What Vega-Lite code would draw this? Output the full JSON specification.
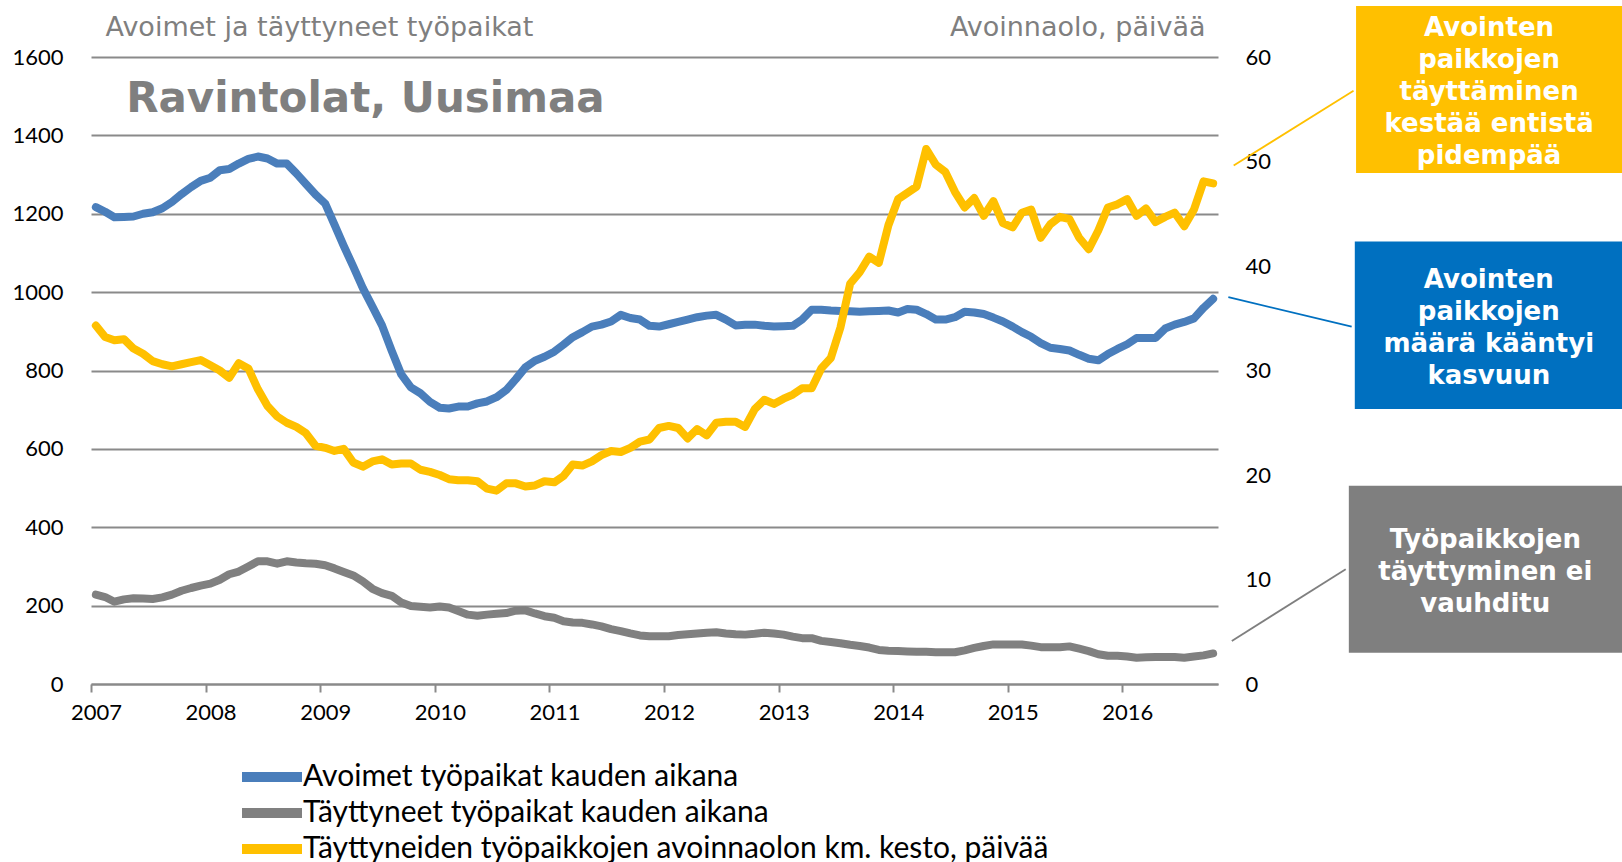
{
  "$schema": "https://vega.github.io/schema/vega-lite/v6.json",
  "width": 1127,
  "height": 627,
  "autosize": {"type": "none"},
  "padding": {"left": 91, "top": 57, "right": 404, "bottom": 178},
  "background": "white",
  "config": {"view": {"stroke": null}},
  "datasets": {
    "m": [
      {"d":"2007-01","a":1217,"t":228,"k":34.3},{"d":"2007-02","a":1205,"t":222,"k":33.2},{"d":"2007-03","a":1191,"t":210,"k":32.9},{"d":"2007-04","a":1192,"t":216,"k":33.0},{"d":"2007-05","a":1193,"t":219,"k":32.1},{"d":"2007-06","a":1200,"t":218,"k":31.6},{"d":"2007-07","a":1204,"t":217,"k":30.9},{"d":"2007-08","a":1214,"t":221,"k":30.6},{"d":"2007-09","a":1230,"t":228,"k":30.4},{"d":"2007-10","a":1250,"t":238,"k":30.6},{"d":"2007-11","a":1268,"t":245,"k":30.8},{"d":"2007-12","a":1284,"t":251,"k":31.0},
      {"d":"2008-01","a":1292,"t":256,"k":30.5},{"d":"2008-02","a":1311,"t":266,"k":30.0},{"d":"2008-03","a":1314,"t":280,"k":29.3},{"d":"2008-04","a":1328,"t":287,"k":30.7},{"d":"2008-05","a":1340,"t":300,"k":30.2},{"d":"2008-06","a":1346,"t":313,"k":28.2},{"d":"2008-07","a":1341,"t":313,"k":26.6},{"d":"2008-08","a":1328,"t":307,"k":25.6},{"d":"2008-09","a":1328,"t":313,"k":25.0},{"d":"2008-10","a":1303,"t":310,"k":24.6},{"d":"2008-11","a":1276,"t":308,"k":24.0},{"d":"2008-12","a":1249,"t":307,"k":22.8},
      {"d":"2009-01","a":1226,"t":303,"k":22.6},{"d":"2009-02","a":1172,"t":295,"k":22.3},{"d":"2009-03","a":1118,"t":286,"k":22.5},{"d":"2009-04","a":1065,"t":277,"k":21.2},{"d":"2009-05","a":1010,"t":262,"k":20.8},{"d":"2009-06","a":963,"t":243,"k":21.3},{"d":"2009-07","a":915,"t":232,"k":21.5},{"d":"2009-08","a":850,"t":225,"k":21.0},{"d":"2009-09","a":790,"t":208,"k":21.1},{"d":"2009-10","a":757,"t":199,"k":21.1},{"d":"2009-11","a":742,"t":197,"k":20.5},{"d":"2009-12","a":720,"t":195,"k":20.3},
      {"d":"2010-01","a":705,"t":198,"k":20.0},{"d":"2010-02","a":703,"t":195,"k":19.6},{"d":"2010-03","a":708,"t":186,"k":19.5},{"d":"2010-04","a":708,"t":177,"k":19.5},{"d":"2010-05","a":716,"t":174,"k":19.4},{"d":"2010-06","a":721,"t":177,"k":18.7},{"d":"2010-07","a":732,"t":179,"k":18.5},{"d":"2010-08","a":750,"t":181,"k":19.2},{"d":"2010-09","a":778,"t":187,"k":19.2},{"d":"2010-10","a":808,"t":188,"k":18.9},{"d":"2010-11","a":825,"t":180,"k":19.0},{"d":"2010-12","a":835,"t":173,"k":19.4},
      {"d":"2011-01","a":848,"t":169,"k":19.3},{"d":"2011-02","a":866,"t":160,"k":19.9},{"d":"2011-03","a":885,"t":157,"k":21.0},{"d":"2011-04","a":898,"t":156,"k":20.9},{"d":"2011-05","a":912,"t":152,"k":21.3},{"d":"2011-06","a":917,"t":147,"k":21.9},{"d":"2011-07","a":925,"t":140,"k":22.3},{"d":"2011-08","a":942,"t":135,"k":22.2},{"d":"2011-09","a":934,"t":129,"k":22.6},{"d":"2011-10","a":930,"t":124,"k":23.2},{"d":"2011-11","a":914,"t":122,"k":23.4},{"d":"2011-12","a":912,"t":122,"k":24.5},
      {"d":"2012-01","a":918,"t":122,"k":24.7},{"d":"2012-02","a":924,"t":125,"k":24.5},{"d":"2012-03","a":930,"t":127,"k":23.5},{"d":"2012-04","a":936,"t":129,"k":24.4},{"d":"2012-05","a":940,"t":131,"k":23.8},{"d":"2012-06","a":942,"t":132,"k":25.0},{"d":"2012-07","a":930,"t":129,"k":25.1},{"d":"2012-08","a":915,"t":127,"k":25.1},{"d":"2012-09","a":917,"t":126,"k":24.6},{"d":"2012-10","a":917,"t":128,"k":26.3},{"d":"2012-11","a":914,"t":131,"k":27.2},{"d":"2012-12","a":912,"t":129,"k":26.8},
      {"d":"2013-01","a":913,"t":126,"k":27.3},{"d":"2013-02","a":914,"t":121,"k":27.7},{"d":"2013-03","a":930,"t":117,"k":28.3},{"d":"2013-04","a":955,"t":117,"k":28.3},{"d":"2013-05","a":955,"t":110,"k":30.2},{"d":"2013-06","a":953,"t":107,"k":31.2},{"d":"2013-07","a":952,"t":104,"k":34.1},{"d":"2013-08","a":951,"t":100,"k":38.3},{"d":"2013-09","a":950,"t":97,"k":39.4},{"d":"2013-10","a":951,"t":93,"k":40.9},{"d":"2013-11","a":952,"t":87,"k":40.3},{"d":"2013-12","a":953,"t":85,"k":43.9},
      {"d":"2014-01","a":948,"t":84,"k":46.4},{"d":"2014-02","a":957,"t":83,"k":47.0},{"d":"2014-03","a":955,"t":82,"k":47.6},{"d":"2014-04","a":944,"t":82,"k":51.2},{"d":"2014-05","a":930,"t":81,"k":49.7},{"d":"2014-06","a":930,"t":81,"k":49.0},{"d":"2014-07","a":936,"t":81,"k":47.1},{"d":"2014-08","a":950,"t":86,"k":45.6},{"d":"2014-09","a":948,"t":92,"k":46.5},{"d":"2014-10","a":944,"t":97,"k":44.8},{"d":"2014-11","a":935,"t":101,"k":46.2},{"d":"2014-12","a":925,"t":101,"k":44.1},
      {"d":"2015-01","a":912,"t":101,"k":43.7},{"d":"2015-02","a":898,"t":101,"k":45.1},{"d":"2015-03","a":886,"t":98,"k":45.4},{"d":"2015-04","a":870,"t":94,"k":42.7},{"d":"2015-05","a":858,"t":94,"k":44.0},{"d":"2015-06","a":855,"t":94,"k":44.7},{"d":"2015-07","a":851,"t":96,"k":44.5},{"d":"2015-08","a":840,"t":90,"k":42.7},{"d":"2015-09","a":830,"t":84,"k":41.6},{"d":"2015-10","a":826,"t":76,"k":43.4},{"d":"2015-11","a":842,"t":72,"k":45.6},{"d":"2015-12","a":855,"t":72,"k":45.9},
      {"d":"2016-01","a":867,"t":70,"k":46.4},{"d":"2016-02","a":883,"t":67,"k":44.8},{"d":"2016-03","a":883,"t":68,"k":45.5},{"d":"2016-04","a":883,"t":69,"k":44.2},{"d":"2016-05","a":907,"t":69,"k":44.7},{"d":"2016-06","a":917,"t":69,"k":45.1},{"d":"2016-07","a":924,"t":67,"k":43.8},{"d":"2016-08","a":933,"t":70,"k":45.4},{"d":"2016-09","a":960,"t":73,"k":48.1},{"d":"2016-10","a":983,"t":78,"k":47.9}
    ]
  },
  "layer": [
    {
      "data": {"name": "m"},
      "transform": [{"fold": ["a", "t"], "as": ["series", "value"]}],
      "mark": {"type": "line", "strokeWidth": 8, "strokeCap": "round", "strokeJoin": "round"},
      "encoding": {
        "x": {
          "field": "d", "type": "temporal", "timeUnit": "utcyearmonth", "bandPosition": 0.5, "title": null,
          "scale": {"type": "utc", "domain": [{"year": 2007, "month": 1, "date": 1, "utc": true}, {"year": 2016, "month": 11, "date": 1, "utc": true}]},
          "axis": {
            "values": [
              {"year": 2007, "month": 1, "date": 1, "utc": true}, {"year": 2008, "month": 1, "date": 1, "utc": true},
              {"year": 2009, "month": 1, "date": 1, "utc": true}, {"year": 2010, "month": 1, "date": 1, "utc": true},
              {"year": 2011, "month": 1, "date": 1, "utc": true}, {"year": 2012, "month": 1, "date": 1, "utc": true},
              {"year": 2013, "month": 1, "date": 1, "utc": true}, {"year": 2014, "month": 1, "date": 1, "utc": true},
              {"year": 2015, "month": 1, "date": 1, "utc": true}, {"year": 2016, "month": 1, "date": 1, "utc": true}
            ],
            "labelExpr": "utcFormat(datum.value, '%Y')", "grid": false,
            "domain": true, "domainColor": "#8A8A8A", "domainWidth": 2,
            "ticks": true, "tickColor": "#8A8A8A", "tickWidth": 2, "tickSize": 8,
            "labelFont": "Lato", "labelFontSize": 22, "labelColor": "#000000",
            "labelPadding": 10, "labelOffset": 5, "labelFlush": false, "labelOverlap": false
          }
        },
        "y": {
          "field": "value", "type": "quantitative",
          "scale": {"domain": [0, 1600], "nice": false},
          "title": "Avoimet ja täyttyneet työpaikat",
          "axis": {
            "values": [0, 200, 400, 600, 800, 1000, 1200, 1400, 1600], "format": "d",
            "grid": true, "gridColor": "#8A8A8A", "gridWidth": 2,
            "domain": false, "ticks": false,
            "labelFont": "Lato", "labelFontSize": 22, "labelColor": "#000000", "labelPadding": 28,
            "titleAngle": 0, "titleAlign": "left", "titleBaseline": "alphabetic", "titleX": 14, "titleY": -22,
            "titleFont": "DejaVu Sans", "titleFontSize": 27, "titleFontWeight": "normal", "titleColor": "#7F7F7F"
          }
        },
        "color": {
          "field": "series", "type": "nominal",
          "scale": {"domain": ["a", "t", "k"], "range": ["#4A7EBB", "#808080", "#FFC000"]},
          "legend": {
            "orient": "none", "legendX": 166, "legendY": 705, "direction": "vertical", "title": null, "padding": 0,
            "symbolType": "M-3,0L3,0", "symbolSize": 400, "symbolStrokeWidth": 10,
            "labelFont": "Lato", "labelFontSize": 30, "labelColor": "#000000", "labelOffset": 16, "labelLimit": 0,
            "rowPadding": -4,
            "labelExpr": "datum.value == 'a' ? 'Avoimet työpaikat kauden aikana' : datum.value == 't' ? 'Täyttyneet työpaikat kauden aikana' : 'Täyttyneiden työpaikkojen avoinnaolon km. kesto, päivää'"
          }
        }
      }
    },
    {
      "data": {"name": "m"},
      "transform": [{"fold": ["k"], "as": ["series", "value"]}],
      "mark": {"type": "line", "strokeWidth": 8, "strokeCap": "round", "strokeJoin": "round"},
      "encoding": {
        "x": {
          "field": "d", "type": "temporal", "timeUnit": "utcyearmonth", "bandPosition": 0.5, "title": null,
          "scale": {"type": "utc", "domain": [{"year": 2007, "month": 1, "date": 1, "utc": true}, {"year": 2016, "month": 11, "date": 1, "utc": true}]}
        },
        "y": {
          "field": "value", "type": "quantitative",
          "scale": {"domain": [0, 60], "nice": false},
          "title": "Avoinnaolo, päivää",
          "axis": {
            "orient": "right",
            "values": [0, 10, 20, 30, 40, 50, 60],
            "grid": false, "domain": false, "ticks": false,
            "labelFont": "Lato", "labelFontSize": 22, "labelColor": "#000000", "labelPadding": 27,
            "titleAngle": 0, "titleAlign": "right", "titleBaseline": "alphabetic", "titleX": -13, "titleY": -22,
            "titleFont": "DejaVu Sans", "titleFontSize": 27, "titleFontWeight": "normal", "titleColor": "#7F7F7F"
          }
        },
        "color": {"field": "series", "type": "nominal"}
      }
    },
    {
      "data": {"values": [
        {"note": "kesto", "x1": "2018-01-15", "x2": "2020-07-01", "y1": 1304, "y2": 1730},
        {"note": "avoimet", "x1": "2018-01-11", "x2": "2020-07-01", "y1": 702, "y2": 1129},
        {"note": "tayttyneet", "x1": "2017-12-23", "x2": "2020-07-01", "y1": 80, "y2": 506}
      ]},
      "mark": {"type": "rect"},
      "encoding": {
        "x": {"field": "x1", "type": "temporal", "title": null, "scale": {"type": "utc", "domain": [{"year": 2007, "month": 1, "date": 1, "utc": true}, {"year": 2016, "month": 11, "date": 1, "utc": true}]}},
        "x2": {"field": "x2"},
        "y": {"field": "y1", "type": "quantitative", "scale": {"domain": [0, 1600], "nice": false}, "axis": null},
        "y2": {"field": "y2"},
        "fill": {"field": "note", "type": "nominal", "scale": {"domain": ["kesto", "avoimet", "tayttyneet"], "range": ["#FFC000", "#0070C0", "#7F7F7F"]}, "legend": null}
      }
    },
    {
      "data": {"values": [
        {"note": "kesto", "x1": "2016-12-21", "y1": 1323, "x2": "2018-01-07", "y2": 1514},
        {"note": "avoimet", "x1": "2016-12-04", "y1": 987, "x2": "2018-01-01", "y2": 912},
        {"note": "tayttyneet", "x1": "2016-12-15", "y1": 110, "x2": "2017-12-13", "y2": 293}
      ]},
      "mark": {"type": "rule", "strokeWidth": 1.8},
      "encoding": {
        "x": {"field": "x1", "type": "temporal", "title": null, "scale": {"type": "utc", "domain": [{"year": 2007, "month": 1, "date": 1, "utc": true}, {"year": 2016, "month": 11, "date": 1, "utc": true}]}},
        "x2": {"field": "x2"},
        "y": {"field": "y1", "type": "quantitative", "scale": {"domain": [0, 1600], "nice": false}, "axis": null},
        "y2": {"field": "y2"},
        "stroke": {"field": "note", "type": "nominal", "scale": {"domain": ["kesto", "avoimet", "tayttyneet"], "range": ["#FFC000", "#0070C0", "#7F7F7F"]}, "legend": null}
      }
    },
    {
      "data": {"values": [
        {"label": "Avointen\npaikkojen\ntäyttäminen\nkestää entistä\npidempää", "x": "2019-03-15", "y": 1673},
        {"label": "Avointen\npaikkojen\nmäärä kääntyi\nkasvuun", "x": "2019-03-14", "y": 1031},
        {"label": "Työpaikkojen\ntäyttyminen ei\nvauhditu", "x": "2019-03-03", "y": 367}
      ]},
      "mark": {"type": "text", "font": "DejaVu Sans", "fontWeight": "bold", "fontSize": 26, "lineHeight": 32, "lineBreak": "\n", "align": "center", "baseline": "middle", "color": "#FFFFFF"},
      "encoding": {
        "x": {"field": "x", "type": "temporal", "title": null, "scale": {"type": "utc", "domain": [{"year": 2007, "month": 1, "date": 1, "utc": true}, {"year": 2016, "month": 11, "date": 1, "utc": true}]}},
        "y": {"field": "y", "type": "quantitative", "scale": {"domain": [0, 1600], "nice": false}, "axis": null},
        "text": {"field": "label"}
      }
    },
    {
      "data": {"values": [
        {"label": "Ravintolat, Uusimaa", "x": "2007-04-23", "y": 1460}
      ]},
      "mark": {"type": "text", "font": "DejaVu Sans", "fontWeight": "bold", "fontSize": 42, "align": "left", "baseline": "alphabetic", "color": "#7F7F7F"},
      "encoding": {
        "x": {"field": "x", "type": "temporal", "title": null, "scale": {"type": "utc", "domain": [{"year": 2007, "month": 1, "date": 1, "utc": true}, {"year": 2016, "month": 11, "date": 1, "utc": true}]}},
        "y": {"field": "y", "type": "quantitative", "scale": {"domain": [0, 1600], "nice": false}, "axis": null},
        "text": {"field": "label"}
      }
    }
  ],
  "resolve": {"scale": {"y": "independent"}}
}
